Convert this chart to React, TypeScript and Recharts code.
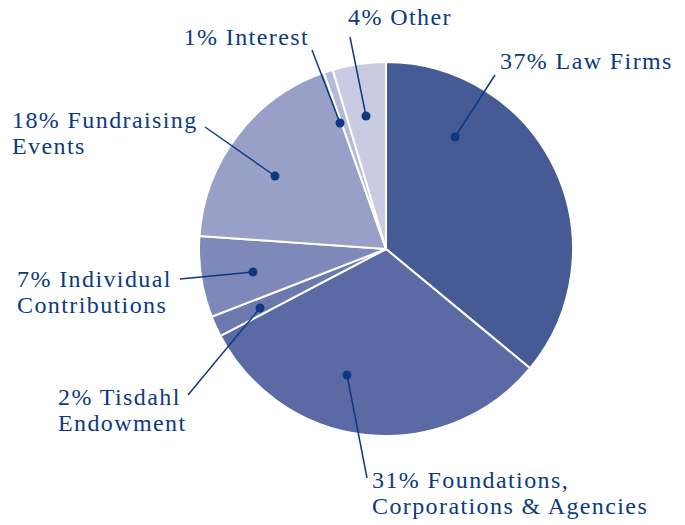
import React from "react";
import { PieChart, Pie, Cell } from "recharts";

const sources = [
  "Law Firms",
  "Foundations, Corporations & Agencies",
  "Tisdahl Endowment",
  "Individual Contributions",
  "Fundraising Events",
  "Interest",
  "Other",
];
// slice sizes (labels carry the rounded figures)
const shares = [36.0, 31.3, 1.8, 7.0, 18.5, 0.8, 4.6];
const labelLines = [
  ["37% Law Firms"],
  ["31% Foundations,", "Corporations & Agencies"],
  ["2% Tisdahl", "Endowment"],
  ["7% Individual", "Contributions"],
  ["18% Fundraising", "Events"],
  ["1% Interest"],
  ["4% Other"],
];

const colors = ["#465a95", "#5b6aa4", "#6c79ae", "#7f89b9", "#99a0c7", "#b5bad8", "#c9cbe2"];
const ink = "#0c3a82";
const font = "'Liberation Serif', 'DejaVu Serif', serif";

// label layout, offsets from the pie centre: dot, end of leader line, text origin
const layout = [
  { dot: [69, -112], end: [109, -174], text: [114, -180], anchor: "start" },
  { dot: [-39, 126], end: [-19, 229], text: [-14, 239], anchor: "start" },
  { dot: [-126, 59], end: [-198, 146], text: [-328, 156], anchor: "start" },
  { dot: [-133, 23], end: [-206, 30], text: [-369, 38], anchor: "start" },
  { dot: [-111, -73], end: [-181, -122], text: [-374, -121], anchor: "start" },
  { dot: [-46, -126], end: [-74, -199], text: [-77, -204], anchor: "end" },
  { dot: [-20, -133], end: [-36, -212], text: [-38, -224], anchor: "start" },
];

const data = sources.map((name, i) => ({ name, value: shares[i] }));

function renderLabel(props: any) {
  const { cx, cy, index } = props;
  const l = layout[index];
  const lines = labelLines[index];
  return (
    <g key={`lbl-${index}`}>
      <line
        x1={cx + l.dot[0]}
        y1={cy + l.dot[1]}
        x2={cx + l.end[0]}
        y2={cy + l.end[1]}
        stroke={ink}
        strokeWidth={1.5}
      />
      <circle cx={cx + l.dot[0]} cy={cy + l.dot[1]} r={4.5} fill={ink} />
      <text
        x={cx + l.text[0]}
        y={cy + l.text[1]}
        fill={ink}
        textAnchor={l.anchor}
        style={{ fontFamily: font, fontSize: 24, letterSpacing: 1.4 }}
      >
        {lines.map((t, j) => (
          <tspan key={j} x={cx + l.text[0]} dy={j === 0 ? 0 : 26}>
            {t}
          </tspan>
        ))}
      </text>
    </g>
  );
}

export default function App() {
  return (
    <div style={{ position: "fixed", left: 0, top: 0, background: "#fff" }}>
      <PieChart width={685} height={525} margin={{ top: 0, right: 0, bottom: 0, left: 0 }}>
        <Pie
          data={data}
          dataKey="value"
          nameKey="name"
          cx={386}
          cy={249}
          outerRadius={187}
          startAngle={90}
          endAngle={-270}
          stroke="#ffffff"
          strokeWidth={2}
          label={renderLabel}
          labelLine={false}
          isAnimationActive={false}
        >
          {data.map((d, i) => (
            <Cell key={d.name} fill={colors[i]} />
          ))}
        </Pie>
      </PieChart>
    </div>
  );
}
